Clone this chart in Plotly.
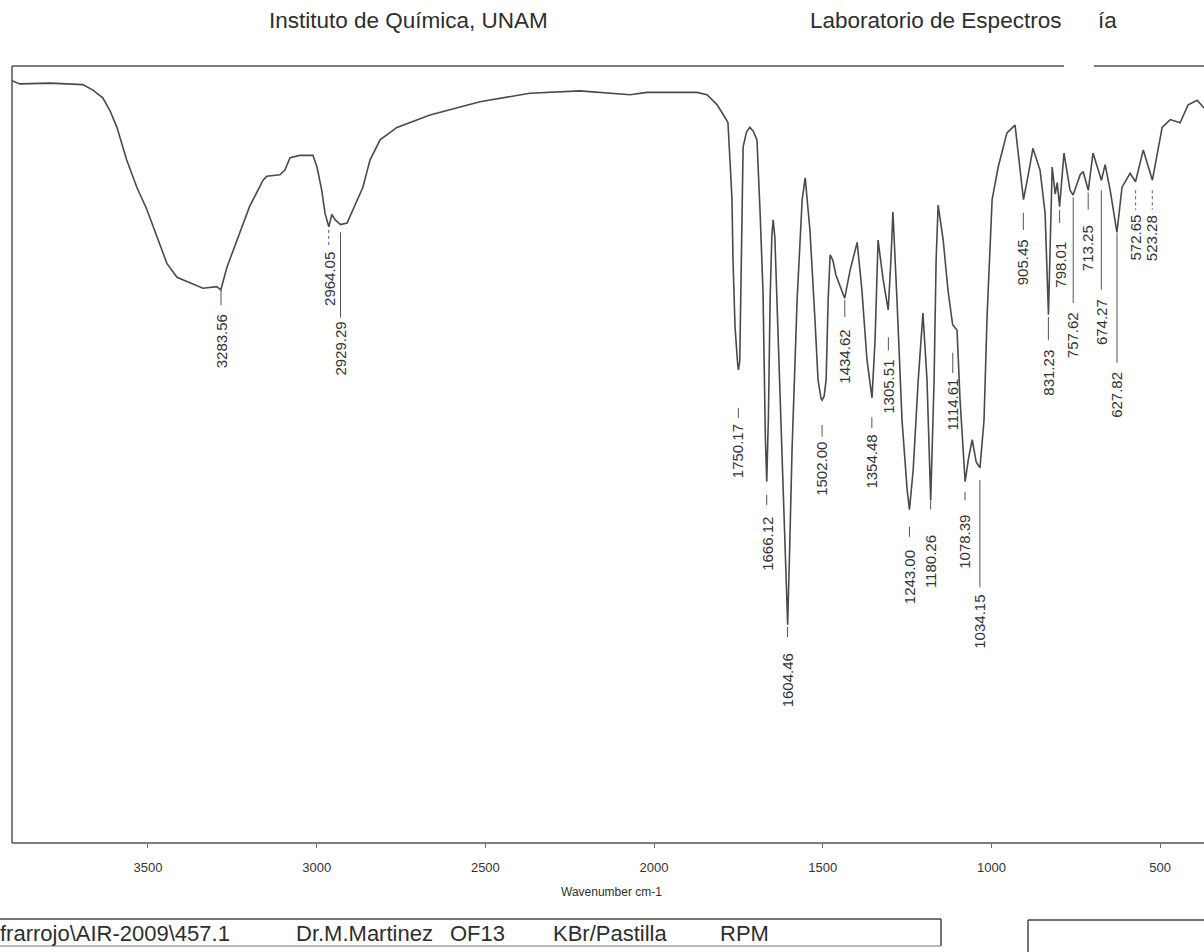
import plotly.graph_objects as go

# ---------------- data ----------------
WAVENUMBER = [3903, 3880, 3790, 3693, 3663, 3634, 3613, 3592, 3563, 3533, 3503, 3474, 3444, 3414, 3376,
              3337, 3296, 3284, 3266, 3236, 3199, 3159, 3148, 3109, 3094, 3079, 3050, 3011, 2999, 2985,
              2975, 2964, 2955, 2945, 2929, 2910, 2892, 2863, 2842, 2812, 2762, 2664, 2516, 2368, 2220,
              2169, 2071, 2021, 1873, 1843, 1813, 1790, 1781, 1775, 1769, 1766, 1760, 1752, 1750, 1746,
              1743, 1740, 1736, 1726, 1716, 1706, 1695, 1686, 1677, 1670, 1666, 1661, 1656, 1651, 1647,
              1642, 1636, 1621, 1610, 1604, 1598, 1591, 1576, 1561, 1552, 1538, 1523, 1514, 1505, 1502,
              1496, 1490, 1484, 1478, 1470, 1461, 1435, 1419, 1398, 1384, 1369, 1354, 1345, 1336, 1321,
              1306, 1298, 1292, 1280, 1265, 1250, 1243, 1232, 1217, 1203, 1191, 1180, 1170, 1164, 1158,
              1143, 1129, 1115, 1102, 1093, 1078, 1068, 1057, 1045, 1034, 1022, 1013, 998, 980, 954,
              930, 915, 905, 891, 877, 856, 841, 831, 826, 820, 811, 805, 798, 791, 785,
              767, 758, 737, 728, 713, 699, 674, 663, 648, 628, 613, 589, 573, 550, 523,
              494, 470, 441, 417, 390, 370]
TRANSMITTANCE = [98.1, 97.7, 97.8, 97.6, 96.9, 95.9, 94.3, 92.1, 87.9, 84.4, 81.5, 78.0, 74.6, 72.8, 72.1,
                 71.4, 71.6, 71.2, 74.1, 77.6, 81.9, 85.3, 85.8, 86.0, 86.6, 88.2, 88.5, 88.5, 87.0, 84.0,
                 81.0, 79.3, 80.9, 80.2, 79.6, 79.8, 81.5, 84.4, 87.9, 90.5, 92.1, 93.7, 95.4, 96.5, 96.8,
                 96.6, 96.3, 96.6, 96.6, 96.3, 95.0, 93.4, 92.7, 87.9, 82.8, 75.0, 66.4, 61.5, 60.9, 62.0,
                 72.0, 82.8, 89.6, 91.5, 92.1, 91.6, 90.5, 81.5, 70.8, 52.0, 46.5, 55.0, 70.0, 78.0, 80.2,
                 78.0, 69.9, 50.6, 35.0, 28.1, 38.0, 50.6, 69.9, 82.8, 85.6, 78.9, 67.3, 59.6, 57.2, 57.0,
                 57.5, 59.6, 69.9, 75.7, 75.0, 73.1, 70.1, 73.7, 77.3, 71.2, 62.2, 57.3, 64.7, 77.6, 72.5,
                 68.6, 75.0, 81.2, 69.9, 54.4, 45.5, 42.9, 48.0, 59.6, 68.2, 59.6, 44.1, 59.6, 75.0, 82.1,
                 77.6, 71.2, 66.7, 66.0, 57.0, 46.5, 49.5, 51.9, 49.0, 48.3, 54.4, 67.7, 82.8, 87.0, 91.4,
                 92.4, 86.6, 82.8, 86.0, 89.4, 86.6, 81.1, 68.0, 76.3, 87.0, 83.5, 85.0, 81.9, 86.0, 88.8,
                 84.0, 83.4, 86.0, 86.4, 84.0, 88.8, 85.3, 87.3, 84.0, 78.6, 84.4, 86.2, 85.1, 89.2, 85.3,
                 92.1, 93.1, 92.7, 95.0, 95.6, 94.6]

PEAK_WN = [3283.56, 2964.05, 2929.29, 1750.17, 1666.12, 1604.46, 1502.00, 1434.62, 1354.48, 1305.51,
           1243.00, 1180.26, 1114.61, 1078.39, 1034.15, 905.45, 831.23, 798.01, 757.62, 713.25,
           674.27, 627.82, 572.65, 523.28]
PEAK_LABELS = ["3283.56", "2964.05", "2929.29", "1750.17", "1666.12", "1604.46", "1502.00", "1434.62",
               "1354.48", "1305.51", "1243.00", "1180.26", "1114.61", "1078.39", "1034.15", "905.45",
               "831.23", "798.01", "757.62", "713.25", "674.27", "627.82", "572.65", "523.28"]

TICK_VALUES = [3500, 3000, 2500, 2000, 1500, 1000, 500]
TICK_TEXT = ["3500", "3000", "2500", "2000", "1500", "1000", "500"]

# ---------------- layout helpers (label placement, %T units) ----------------
MARK_TOP = [71.2, 78.9, 78.6, 56.0, 44.8, 27.8, 53.8, 69.9, 54.8, 65.1, 40.7, 44.1, 63.1, 45.2, 46.7,
            81.1, 67.7, 81.5, 83.1, 83.7, 84.0, 78.5, 84.0, 84.0]
MARK_BOT = [69.2, 76.7, 67.6, 54.7, 43.5, 26.5, 52.3, 67.7, 53.4, 63.4, 39.4, 42.5, 60.5, 44.1, 32.9,
            78.9, 64.7, 79.8, 69.5, 81.5, 71.2, 61.8, 81.5, 81.5]
TEXT_TOP = [68.3, 76.3, 67.3, 54.2, 42.2, 24.6, 51.9, 66.3, 52.8, 62.5, 38.0, 39.9, 60.0, 42.5, 32.2,
            78.0, 63.8, 77.6, 68.6, 79.8, 70.3, 60.9, 81.1, 81.1]
MARK_DASH = ["solid", "dot", "solid", "solid", "solid", "solid", "solid", "solid", "solid", "solid",
             "solid", "dash", "solid", "solid", "solid", "solid", "solid", "solid", "solid", "solid",
             "solid", "solid", "dot", "dot"]

W, H = 1204, 952
ML, MR, MT, MB = 12, 0, 66, 109
FONT = "Liberation Sans, Arial, sans-serif"

fig = go.Figure()
fig.add_trace(go.Scatter(x=WAVENUMBER, y=TRANSMITTANCE, mode="lines",
                         line=dict(color="#4a4a4a", width=1.6), hoverinfo="skip", showlegend=False))

shapes = []
annotations = []
for wn, lab, t0, t1, tt, dash in zip(PEAK_WN, PEAK_LABELS, MARK_TOP, MARK_BOT, TEXT_TOP, MARK_DASH):
    shapes.append(dict(type="line", xref="x", yref="y", x0=wn, x1=wn, y0=t0, y1=t1,
                       line=dict(color="#555555", width=1, dash=dash)))
    annotations.append(dict(x=wn, y=tt, xref="x", yref="y", text=lab, showarrow=False,
                            textangle=-90, xanchor="center", yanchor="top",
                            font=dict(family=FONT, size=15, color="#333333")))


def px_x(p):
    return (p - ML) / (W - ML - MR)


def px_y(p):
    return (H - MB - p) / (H - MT - MB)


# frame (top line has a gap where the scan is covered)
fl = dict(color="#555555", width=1.5)
shapes += [
    dict(type="line", xref="paper", yref="paper", x0=0, x1=px_x(1064), y0=1, y1=1, line=fl),
    dict(type="line", xref="paper", yref="paper", x0=px_x(1094), x1=1.01, y0=1, y1=1, line=fl),
    dict(type="line", xref="paper", yref="paper", x0=0, x1=1.01, y0=0, y1=0, line=fl),
    dict(type="line", xref="paper", yref="paper", x0=0, x1=0, y0=0, y1=1, line=fl),
]

# footer boxes
bl = dict(color="#444444", width=1.5)
shapes += [
    dict(type="line", xref="paper", yref="paper", x0=px_x(0), x1=px_x(941), y0=px_y(919), y1=px_y(919), line=bl),
    dict(type="line", xref="paper", yref="paper", x0=px_x(941), x1=px_x(941), y0=px_y(919), y1=px_y(946), line=bl),
    dict(type="line", xref="paper", yref="paper", x0=px_x(0), x1=px_x(941), y0=px_y(946), y1=px_y(946),
         line=dict(color="#777777", width=1)),
    dict(type="line", xref="paper", yref="paper", x0=px_x(1028), x1=px_x(1210), y0=px_y(920), y1=px_y(920), line=bl),
    dict(type="line", xref="paper", yref="paper", x0=px_x(1028), x1=px_x(1028), y0=px_y(920), y1=px_y(960), line=bl),
]


def text(x, y, s, size, xanchor="left"):
    annotations.append(dict(x=px_x(x), y=px_y(y), xref="paper", yref="paper", text=s, showarrow=False,
                            xanchor=xanchor, yanchor="middle",
                            font=dict(family=FONT, size=size, color="#2e2e2e")))


text(408, 21, "Instituto de Química, UNAM", 22.5, "center")
text(808, 21, "Laboratorio de Espectros", 22.5)
text(1096, 21, "ía", 22.5)
text(611, 892, "Wavenumber cm-1", 12, "center")
text(-2, 933, "frarrojo\\AIR-2009\\457.1", 22)
text(294, 933, "Dr.M.Martinez", 22)
text(448, 933, "OF13", 22)
text(551, 933, "KBr/Pastilla", 22)
text(718, 933, "RPM", 22)

fig.update_layout(
    width=W, height=H,
    margin=dict(l=ML, r=MR, t=MT, b=MB, pad=0),
    paper_bgcolor="white", plot_bgcolor="white",
    shapes=shapes, annotations=annotations,
    xaxis=dict(range=[3903, 370], tickvals=TICK_VALUES, ticktext=TICK_TEXT,
               ticks="outside", ticklen=4, tickcolor="#666666", showgrid=False, zeroline=False,
               showline=False, tickfont=dict(family=FONT, size=13, color="#333333"),
               ticklabelstandoff=8),
    yaxis=dict(range=[0, 100], showticklabels=False, ticks="", showgrid=False, zeroline=False,
               showline=False),
)

fig.write_html("out.html")
